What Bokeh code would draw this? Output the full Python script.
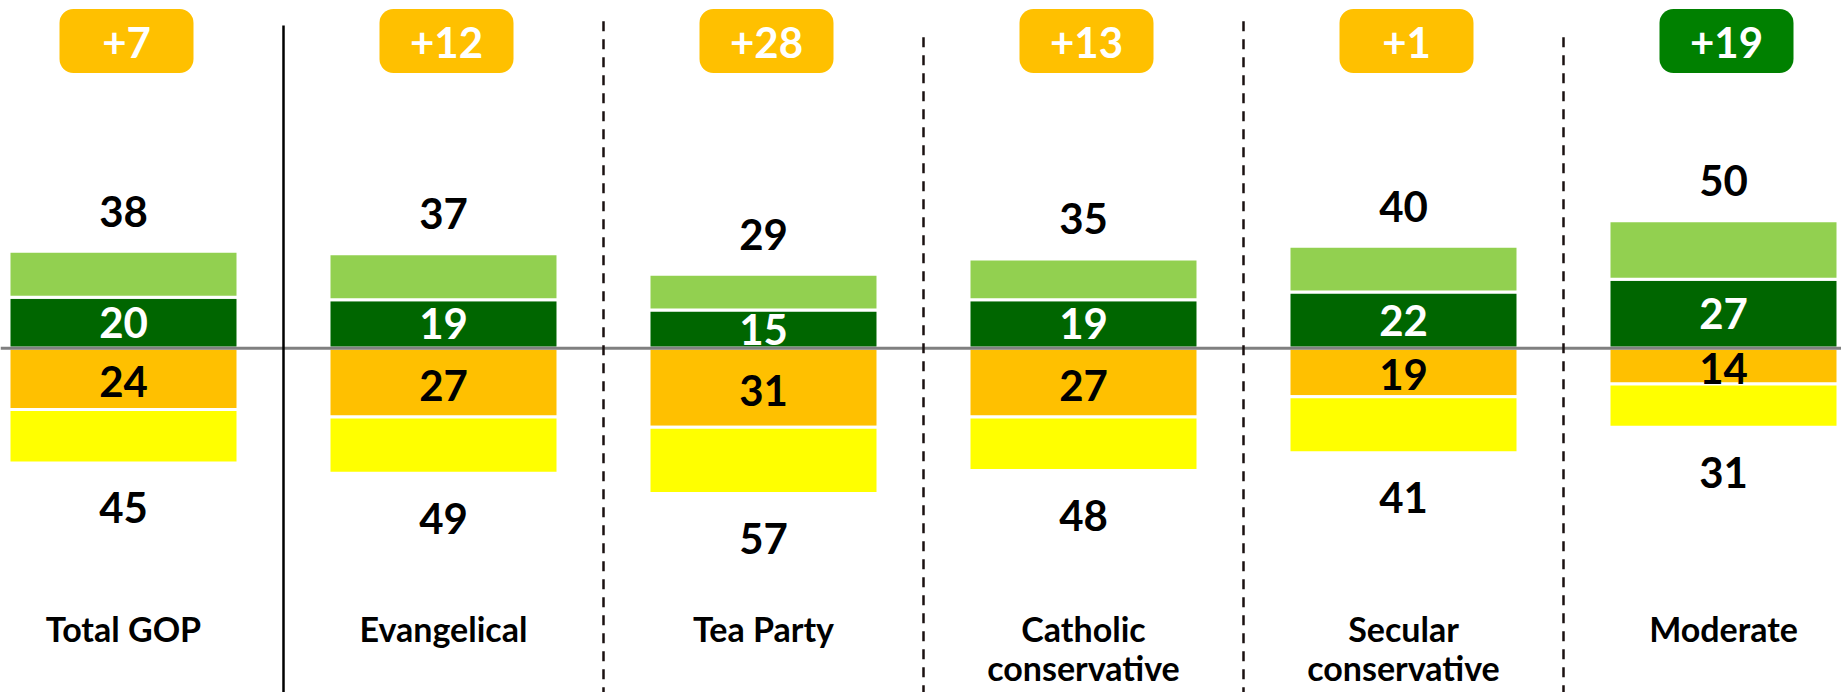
from bokeh.plotting import figure
from bokeh.models import Range1d, ColumnDataSource
from bokeh.core.properties import value
from bokeh.embed import file_html
from bokeh.resources import INLINE

# ---------------- data ----------------
categories = ["Total GOP", "Evangelical", "Tea Party", "Catholic\nconservative",
              "Secular\nconservative", "Moderate"]
strong_fav = [20, 19, 15, 19, 22, 27]      # dark green, labelled inside
total_fav = [38, 37, 29, 35, 40, 50]       # light green top, labelled above
strong_unfav = [24, 27, 31, 27, 19, 14]    # orange, labelled inside
total_unfav = [45, 49, 57, 48, 41, 31]     # yellow bottom, labelled below

# ---------------- styling / layout ----------------
C_DARK = "#006600"
C_LIGHT = "#92D050"
C_ORANGE = "#FFC000"
C_YELLOW = "#FFFF00"
C_BADGE_GREEN = "#008000"
FONT = value("Lato")

W, H = 1841, 692
PX_PER_UNIT = 2.55
BASE_Y = 347.7              # baseline position from frame top (px)
SPACING = 320.0             # px between group centres
X0 = 123                    # first group centre from frame left (px)

def ydata(screen_y):
    return (BASE_Y - screen_y) / PX_PER_UNIT

x_start = -X0 / SPACING
x_end = (W - X0) / SPACING
y_end = BASE_Y / PX_PER_UNIT
y_start = -(H - BASE_Y) / PX_PER_UNIT

p = figure(width=W, height=H, x_range=Range1d(x_start, x_end),
           y_range=Range1d(y_start, y_end), output_backend="svg",
           toolbar_location=None, min_border=0)
p.axis.visible = False
p.grid.visible = False
p.outline_line_color = None
p.background_fill_color = "white"
p.border_fill_color = "white"

n = len(categories)
xs = list(range(n))
bar_w = 229 / SPACING

src = ColumnDataSource(dict(
    x=xs,
    sf=strong_fav, tf=total_fav,
    su=[-v for v in strong_unfav], tu=[-v for v in total_unfav],
    zero=[0] * n,
))

p.vbar(x="x", width=bar_w, bottom="zero", top="sf", source=src,
       fill_color=C_DARK, line_color="white", line_width=3)
p.vbar(x="x", width=bar_w, bottom="sf", top="tf", source=src,
       fill_color=C_LIGHT, line_color="white", line_width=3)
p.vbar(x="x", width=bar_w, bottom="su", top="zero", source=src,
       fill_color=C_ORANGE, line_color="white", line_width=3)
p.vbar(x="x", width=bar_w, bottom="tu", top="su", source=src,
       fill_color=C_YELLOW, line_color="white", line_width=3)

# baseline
p.segment(x0=[x_start], x1=[x_end], y0=[0], y1=[0], line_color="#808080", line_width=3)

# separators
sep_x = [i + 0.5 for i in range(n - 1)]
sep_top_px = [25, 20.7, 36.7, 20.7, 36.7]
p.segment(x0=sep_x[:1], x1=sep_x[:1], y0=[ydata(sep_top_px[0])], y1=[y_start],
          line_color="black", line_width=2.5)
p.segment(x0=sep_x[1:], x1=sep_x[1:], y0=[ydata(t) for t in sep_top_px[1:]],
          y1=[y_start] * (n - 2), line_color="#1a1010", line_width=2.5,
          line_dash="10 8")

# value labels
lab_kw = dict(text_font=FONT, text_font_style="bold", text_font_size="42px",
              text_align="center", text_baseline="middle")
off_top = 40 / PX_PER_UNIT
off_bot = 45 / PX_PER_UNIT
p.text(x=xs, y=[v + off_top for v in total_fav], text=[str(v) for v in total_fav],
       text_color="black", **lab_kw)
p.text(x=xs, y=[-v - off_bot for v in total_unfav], text=[str(v) for v in total_unfav],
       text_color="black", **lab_kw)
p.text(x=xs, y=[v / 2 for v in strong_fav], text=[str(v) for v in strong_fav],
       text_color="white", **lab_kw)
p.text(x=xs, y=[-v / 2 - 1 for v in strong_unfav], text=[str(v) for v in strong_unfav],
       text_color="black", **lab_kw)

# net badges
net = [u - f for f, u in zip(total_fav, total_unfav)]
badge_text = ["+%d" % abs(d) for d in net]
badge_col = [C_ORANGE if d > 0 else C_BADGE_GREEN for d in net]
bw = 134 / SPACING
bx = [x + 3 / SPACING for x in xs]
p.quad(left=[x - bw / 2 for x in bx], right=[x + bw / 2 for x in bx],
       top=[ydata(8.5)] * n, bottom=[ydata(72.5)] * n,
       fill_color=badge_col, line_color=None, border_radius=14)
p.text(x=bx, y=[ydata(42)] * n, text=badge_text, text_color="white", **lab_kw)

# category labels (may be two lines)
cat_kw = dict(text_font=FONT, text_font_style="bold", text_font_size="34px",
              text_align="center", text_baseline="middle", text_color="black")
line_y = [ydata(628), ydata(667)]
cx, cy, ct = [], [], []
for i, c in enumerate(categories):
    for j, part in enumerate(c.split("\n")):
        cx.append(i)
        cy.append(line_y[j])
        ct.append(part)
p.text(x=cx, y=cy, text=ct, **cat_kw)

open("out.html", "w").write(file_html(p, INLINE))
